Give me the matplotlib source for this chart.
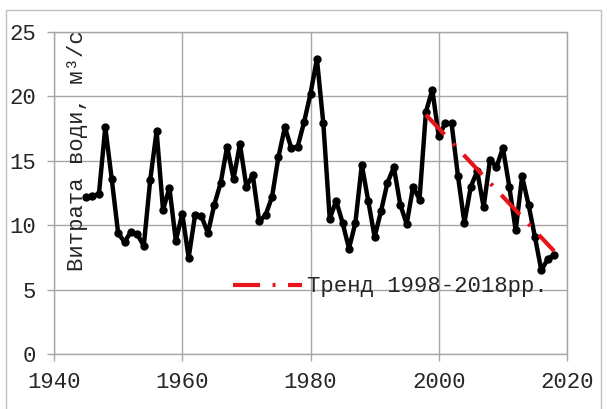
import numpy as np
import matplotlib.pyplot as plt
from matplotlib.patches import Rectangle

plt.rcParams["font.family"] = ["Liberation Mono", "DejaVu Sans Mono"]

# annual mean discharge, m3/s
years = np.arange(1945, 2019)
flow = [
    12.2, 12.3, 12.4, 17.6, 13.6, 9.4, 8.7, 9.5, 9.3, 8.4,
    13.5, 17.3, 11.2, 12.9, 8.8, 10.9, 7.5, 10.8, 10.7, 9.4,
    11.6, 13.3, 16.1, 13.6, 16.3, 13.0, 13.9, 10.3, 10.8, 12.2,
    15.3, 17.6, 16.0, 16.1, 18.0, 20.2, 22.9, 17.9, 10.5, 11.9,
    10.2, 8.2, 10.2, 14.7, 11.9, 9.1, 11.1, 13.3, 14.5, 11.6,
    10.1, 13.0, 12.0, 18.8, 20.5, 16.9, 17.9, 17.9, 13.8, 10.2,
    13.0, 14.2, 11.4, 15.1, 14.5, 16.0, 13.0, 9.6, 13.8, 11.6,
    9.1, 6.5, 7.4, 7.7,
]
trend_start, trend_end = 1998, 2018
trend_label = "Тренд 1998-2018рр."
y_label = "Витрата води, м³/с"

flow = np.array(flow)
mask = (years >= trend_start) & (years <= trend_end)
k, b = np.polyfit(years[mask], flow[mask], 1)
ty = np.array([trend_start, trend_end])

fs = 16
fig = plt.figure(figsize=(6.07, 4.09), dpi=100)
ax = fig.add_axes([54 / 607, 1 - 354.3 / 409, 513 / 607, 322.5 / 409])

grid_c = "#a6a6a6"
ax.plot(years, flow, color="black", lw=3.2, marker="o", ms=5, zorder=3)
ax.plot(ty, k * ty + b, color="#e8141c", lw=3, dashes=(6.5, 3, 0.7, 3),
        zorder=4, label=trend_label)

ax.set_xlim(1940, 2020)
ax.set_ylim(0, 25)
ax.set_xticks(range(1940, 2021, 20))
ax.set_yticks(range(0, 26, 5))
ax.grid(True, color=grid_c, lw=1)
ax.set_axisbelow(True)
for s in ax.spines.values():
    s.set_color(grid_c)
    s.set_linewidth(1)
ax.tick_params(colors=grid_c, labelcolor="#262626", labelsize=fs,
               length=5, width=1)
ax.tick_params(axis="x", pad=8)
ax.tick_params(axis="y", pad=8)

fig.text(77 / 607, 1 - 151 / 409, y_label, rotation=90, ha="center",
         va="center", fontsize=fs, color="#262626")

ax.legend(loc="center left", bbox_to_anchor=(0.349, 0.209), frameon=False,
          fontsize=fs, handlelength=3.1, handletextpad=0.25,
          borderpad=0, borderaxespad=0, labelcolor="#262626")

fig.add_artist(Rectangle((6 / 607, -0.05), 595 / 607, 1.05 - 10 / 409,
                         transform=fig.transFigure, fill=False,
                         edgecolor="#bfbfbf", lw=1))

fig.savefig("out.png", dpi=100)
